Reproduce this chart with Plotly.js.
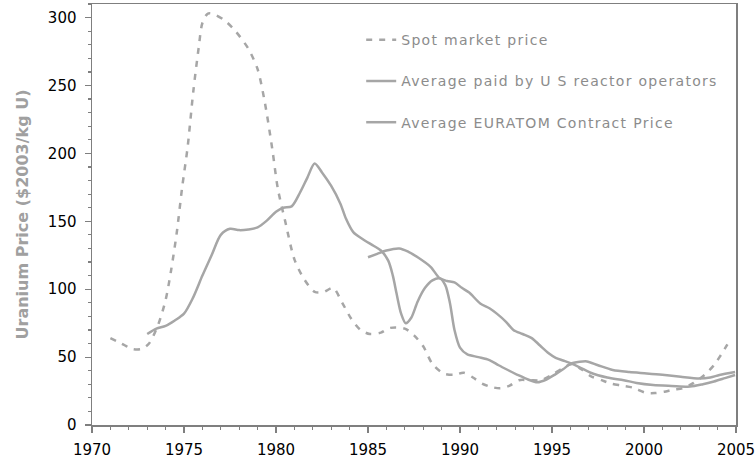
<!DOCTYPE html>
<html>
<head>
<meta charset="utf-8">
<script src="https://cdn.plot.ly/plotly-3.0.1.min.js"></script>
<style>
html,body{margin:0;padding:0;background:#fff;}
#chart{width:756px;height:461px;}
#chart .legendtext{letter-spacing:1.3px;}
#chart .legend .scrollbox{clip-path:none !important;}
#chart .legend clipPath{display:none;}
</style>
</head>
<body>
<div id="chart"></div>
<script>
// Spot market price (dashed)
const spotYears = [1971.0, 1971.6, 1972.2, 1972.7, 1973.1, 1973.6, 1974.0, 1974.3, 1974.6, 1974.9, 1975.2, 1975.5, 1975.8, 1976.0, 1976.3, 1976.7, 1977.2, 1977.8, 1978.5, 1979.0, 1979.4, 1979.8, 1980.1, 1980.5, 1981.0, 1981.5, 1982.1, 1982.6, 1983.1, 1983.6, 1984.1, 1984.6, 1985.1, 1985.7, 1986.2, 1987.0, 1987.5, 1988.0, 1988.5, 1989.1, 1989.7, 1990.2, 1990.7, 1991.2, 1991.7, 1992.2, 1992.7, 1993.2, 1993.8, 1994.4, 1995.0, 1995.6, 1996.1, 1996.6, 1997.1, 1997.7, 1998.2, 1998.8, 1999.4, 2000.1, 2000.6, 2001.1, 2001.6, 2002.1, 2002.7, 2003.3, 2003.8, 2004.2, 2004.7];
const spotPrice = [64, 60, 56, 56, 60, 74, 92, 114, 141, 175, 205, 245, 278, 296, 303, 302, 298, 290, 277, 262, 237, 203, 174, 150, 122, 108, 98, 98, 101, 90, 78, 70, 67, 68, 71.5, 71, 66, 58, 45, 38, 37, 38.5, 35, 30.5, 28, 27, 29, 33, 33, 33, 37, 42, 45, 41, 36, 33, 30.5, 29, 27.5, 23.7, 23.5, 24.5, 26, 27, 31, 37, 44, 52, 63];

// Average paid by US reactor operators
const usYears = [1973.0, 1973.5, 1974.0, 1974.5, 1975.0, 1975.5, 1976.0, 1976.5, 1977.0, 1977.5, 1978.0, 1978.5, 1979.0, 1979.5, 1980.0, 1980.4, 1980.85, 1981.3, 1981.7, 1982.1, 1982.5, 1983.0, 1983.5, 1983.8, 1984.2, 1984.7, 1985.3, 1985.7, 1986.1, 1986.35, 1986.55, 1986.8, 1987.05, 1987.35, 1987.7, 1988.1, 1988.5, 1988.9, 1989.2, 1989.45, 1989.7, 1990.0, 1990.4, 1991.0, 1991.6, 1992.1, 1992.6, 1993.2, 1993.7, 1994.2, 1994.7, 1995.2, 1995.6, 1996.0, 1996.5, 1996.9, 1997.5, 1998.3, 1999.2, 2000.15, 2001.0, 2002.0, 2003.0, 2003.6, 2004.1, 2004.95];
const usPrice = [67, 71, 73, 77, 82, 94, 110, 125, 140, 144.5, 143.5, 144, 145.5, 150.5, 157, 160, 161, 171, 182, 192.5, 186, 176, 163, 152, 142, 137, 132, 128.5, 121, 110, 97, 82, 75, 79, 91, 101, 106.5, 108, 103, 90, 70, 57, 52, 50, 47.8, 44, 40.5, 36.5, 33.5, 31.5, 33.5, 37.5, 41, 45, 46.5, 46.8, 44, 40.5, 39, 38, 37, 35.5, 34.3, 35, 36.8, 39];

// Average EURATOM contract price
const euYears = [1985.0, 1985.5, 1986.0, 1986.7, 1987.2, 1987.7, 1988.4, 1988.9, 1989.3, 1989.7, 1990.1, 1990.5, 1991.1, 1991.6, 1992.0, 1992.5, 1992.9, 1993.4, 1993.9, 1994.35, 1994.8, 1995.2, 1995.6, 1996.0, 1996.5, 1997.1, 1998.0, 1998.9, 1999.6, 2000.5, 2001.5, 2002.5, 2003.2, 2003.8, 2004.4, 2004.95];
const euPrice = [123.5, 126, 128.5, 130, 127.5, 123.5, 116.5, 108, 106, 105, 101, 97.5, 89.5, 86, 82, 76, 70, 67, 64, 58.5, 53, 49.5, 47.5, 45.5, 42.5, 38.5, 35, 33, 31, 29.5, 28.8, 28.3, 30, 32, 34.5, 36.8];

const seriesNames = ["Spot market price", "Average paid by U S reactor operators", "Average EURATOM Contract Price"];
const xTickVals = [1970, 1975, 1980, 1985, 1990, 1995, 2000, 2005];
const yTickVals = [0, 50, 100, 150, 200, 250, 300];

const lineColor = '#a6a6a6';
const axisColor = '#7f7f7f';

const traces = [
  {x: spotYears, y: spotPrice, name: seriesNames[0], legendgroup: 'a', mode: 'lines',
   line: {color: lineColor, width: 2.5, dash: '6px,7px', shape: 'spline', smoothing: 0.8}},
  {x: usYears, y: usPrice, name: seriesNames[1], legendgroup: 'b', mode: 'lines',
   line: {color: lineColor, width: 2.5, shape: 'spline', smoothing: 0.8}},
  {x: euYears, y: euPrice, name: seriesNames[2], legendgroup: 'c', mode: 'lines',
   line: {color: lineColor, width: 2.5, shape: 'spline', smoothing: 0.8}}
];

const layout = {
  width: 756, height: 461,
  margin: {l: 92, r: 20, t: 4, b: 36},
  paper_bgcolor: '#ffffff', plot_bgcolor: '#ffffff',
  font: {family: 'DejaVu Sans, sans-serif', size: 14, color: '#000'},
  showlegend: true,
  legend: {x: 0.418, y: 0.952, xanchor: 'left', yanchor: 'top', traceorder: 'grouped',
           tracegroupgap: 20, bgcolor: 'rgba(0,0,0,0)',
           font: {family: 'DejaVu Sans, sans-serif', size: 14, color: '#8c8c8c'}},
  xaxis: {
    range: [1970, 2005], tickvals: xTickVals, ticktext: xTickVals.map(String),
    ticks: 'outside', ticklen: 6, tickwidth: 1.2, tickcolor: axisColor,
    minor: {dtick: 1, ticks: 'outside', ticklen: 3, tickcolor: axisColor, tickwidth: 1.2, showgrid: false},
    showgrid: false, zeroline: false, showline: true, linecolor: axisColor, linewidth: 1.5, mirror: true,
    ticklabelstandoff: 4,
    tickfont: {family: 'DejaVu Sans, sans-serif', size: 15, color: '#000'}
  },
  yaxis: {
    range: [0, 310], tickvals: yTickVals, ticktext: yTickVals.map(String),
    ticks: 'outside', ticklen: 6, tickwidth: 1.2, tickcolor: axisColor,
    minor: {dtick: 10, ticks: 'outside', ticklen: 3, tickcolor: axisColor, tickwidth: 1.2, showgrid: false},
    showgrid: false, zeroline: false, showline: true, linecolor: axisColor, linewidth: 1.5, mirror: true,
    ticklabelstandoff: 5,
    tickfont: {family: 'DejaVu Sans, sans-serif', size: 15, color: '#000'},
    title: {text: 'Uranium Price ($2003/kg U)', standoff: 15,
            font: {family: 'DejaVu Sans, sans-serif', size: 16, color: '#a0a0a0', weight: 'bold'}}
  }
};

Plotly.newPlot('chart', traces, layout, {displayModeBar: false, staticPlot: true});
</script>
</body>
</html>
